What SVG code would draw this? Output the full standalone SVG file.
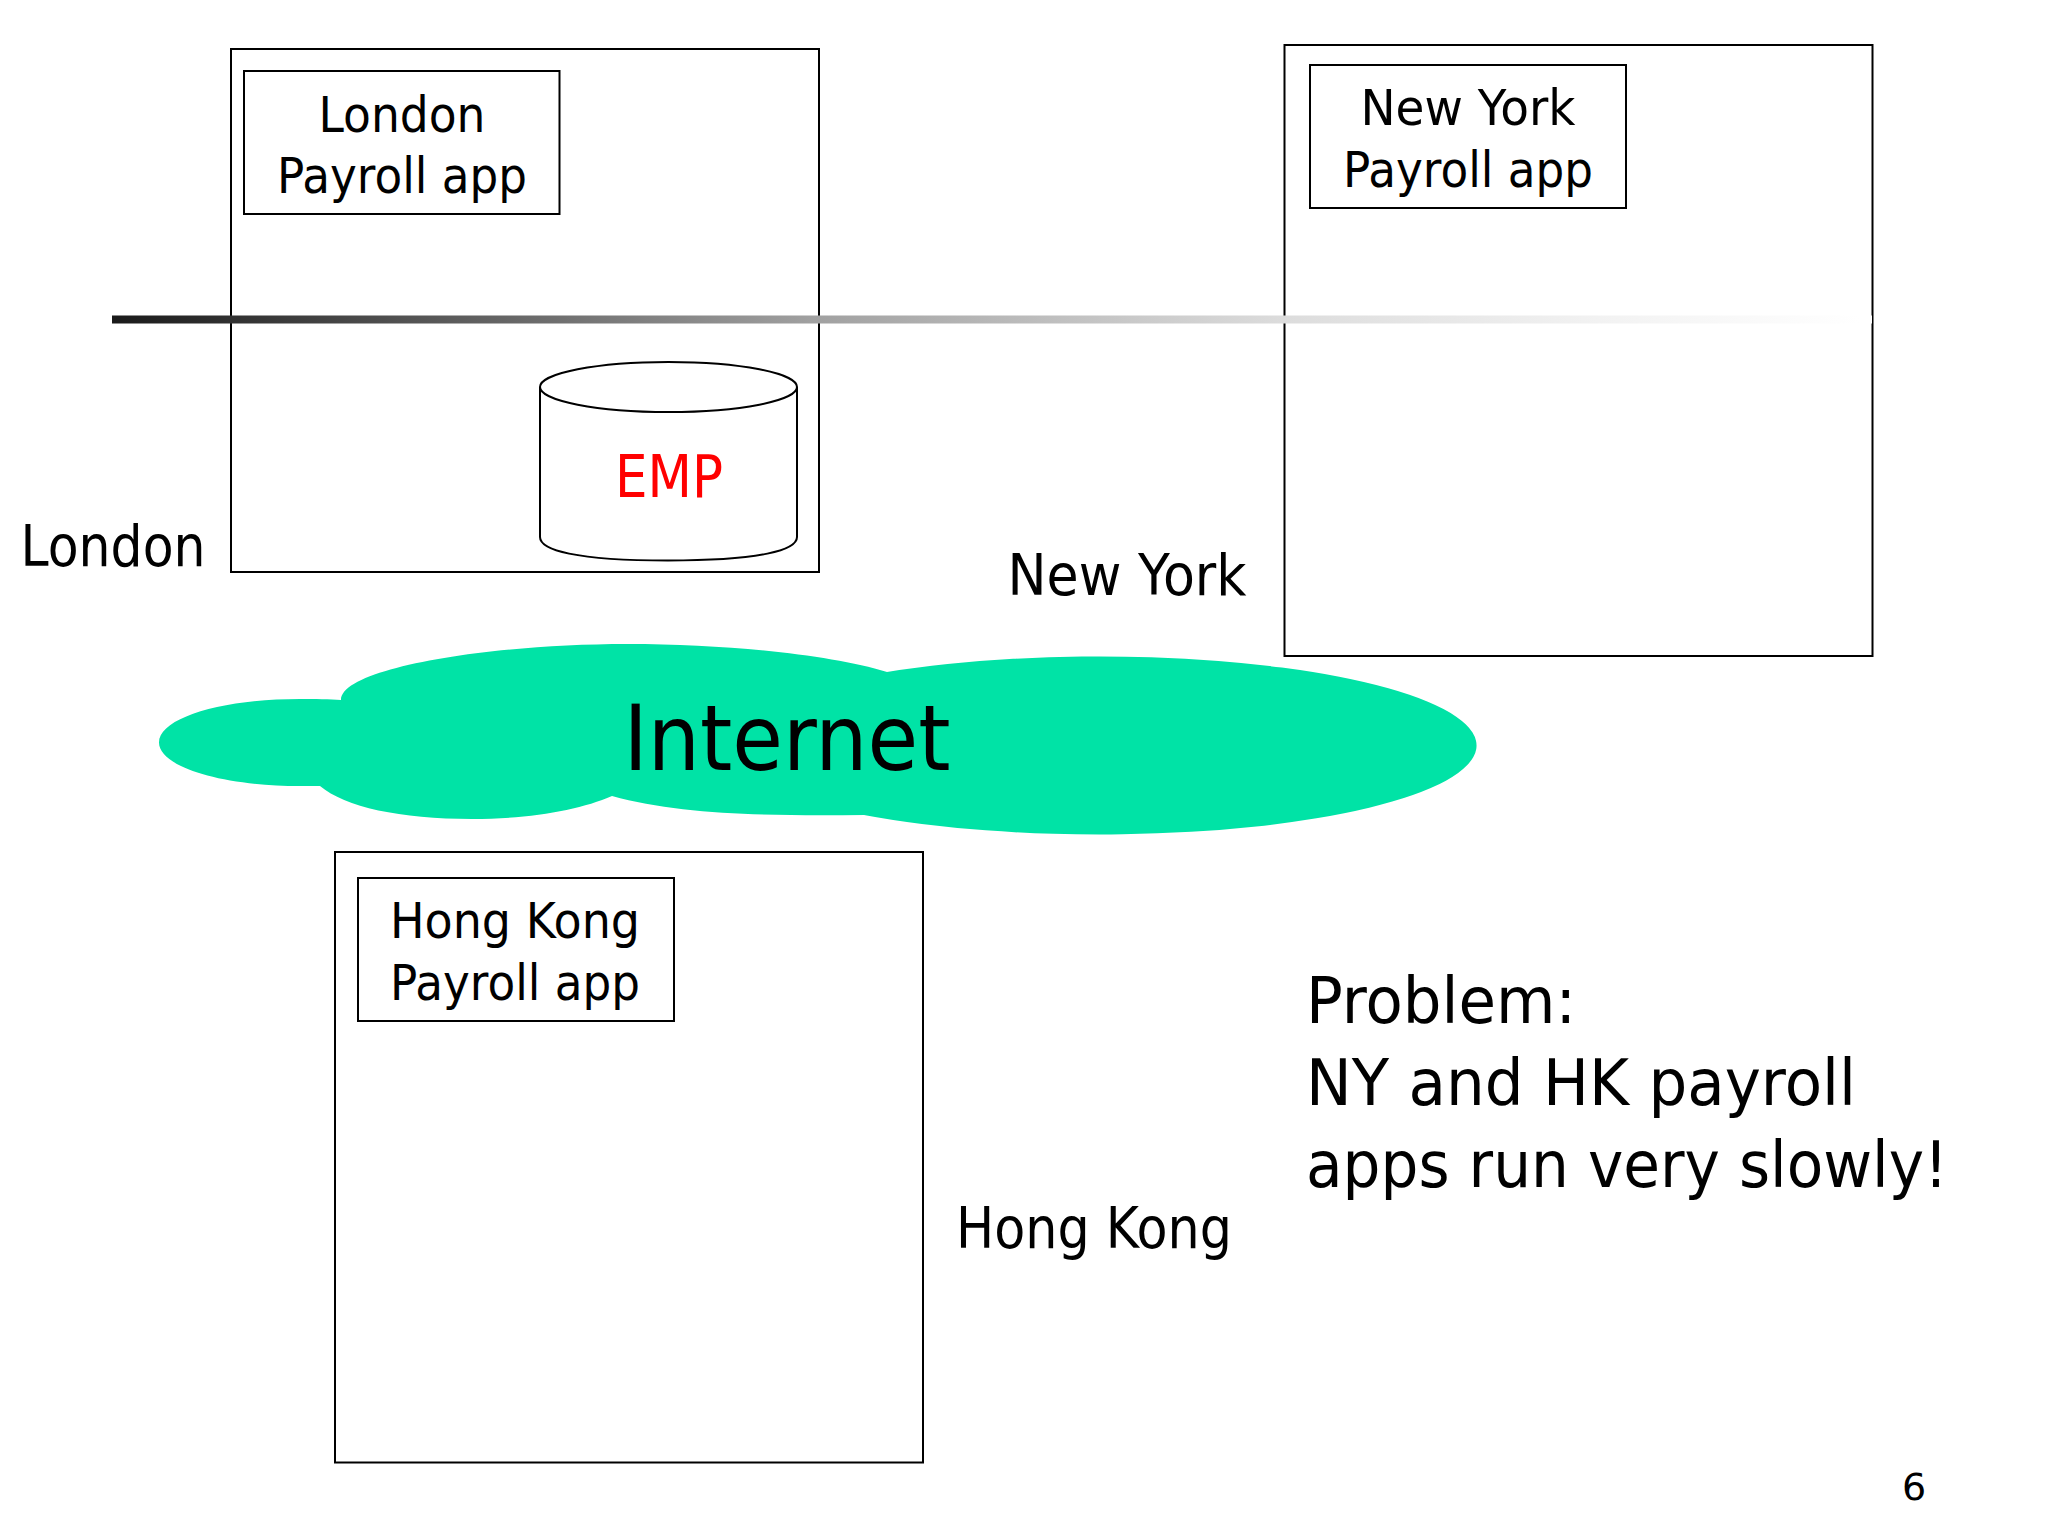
<svg xmlns="http://www.w3.org/2000/svg" width="2048" height="1536" viewBox="0 0 2048 1536">
<defs><linearGradient id="fade" x1="112" y1="0" x2="1860" y2="0" gradientUnits="userSpaceOnUse"><stop offset="0" stop-color="#1a1a1a"/><stop offset="0.4" stop-color="#a0a0a0"/><stop offset="0.67" stop-color="#dcdcdc"/><stop offset="0.85" stop-color="#f2f2f2"/><stop offset="1" stop-color="#ffffff"/></linearGradient></defs>
<style>
.b{fill:#fff;stroke:#000;stroke-width:2}
text{font-family:"DejaVu Sans",sans-serif;fill:#000;text-anchor:middle}
.s{font-size:50px}
.l{font-size:64px;text-anchor:start}
</style>
<rect width="2048" height="1536" fill="#fff"/>
<g id="london"><rect class="b" x="231" y="49" width="588" height="523"/></g>
<g id="newyork"><rect class="b" x="1284.500" y="45" width="588" height="611"/></g>
<g id="connectors"><rect x="112" y="315.500" width="1760" height="8" fill="url(#fade)"/></g>
<g id="london-app"><rect class="b" x="244" y="71" width="315.500" height="143"/><text class="s" x="402" y="132" textLength="167" lengthAdjust="spacingAndGlyphs">London</text><text class="s" x="402" y="193" textLength="250" lengthAdjust="spacingAndGlyphs">Payroll app</text></g>
<g id="ny-app"><rect class="b" x="1310" y="65" width="316" height="143"/><text class="s" x="1468" y="125" textLength="215" lengthAdjust="spacingAndGlyphs">New York</text><text class="s" x="1468" y="187" textLength="250" lengthAdjust="spacingAndGlyphs">Payroll app</text></g>
<g id="emp"><path class="b" d="M540 387V537C540 550 575 560.500 668 560.500S797 550 797 537V387"/><ellipse class="b" cx="668.500" cy="387" rx="128.500" ry="25"/><text x="669" y="497" font-size="58" textLength="108" lengthAdjust="spacingAndGlyphs" style="fill:#f00">EMP</text></g>
<text x="113" y="566" font-size="57" textLength="185" lengthAdjust="spacingAndGlyphs">London</text>
<text x="1127" y="595" font-size="57" textLength="239" lengthAdjust="spacingAndGlyphs">New York</text>
<g id="internet"><path fill="#00e3a6" d="M341 700C341 668 490 644 627 644C730 644 830 655 887 672A377 89 0 1 1 864 815C770 816 680 815 612 796C580 810 530 819 472 819C400 819 345 807 320 786L300 786C222 786 159 767 159 742.500C159 718 222 699 300 699C315 699 330 699 341 700Z"/><text x="787" y="770" font-size="90" textLength="327" lengthAdjust="spacingAndGlyphs">Internet</text></g>
<g id="hongkong"><rect class="b" x="335" y="852" width="588" height="610.500"/></g>
<g id="hk-app"><rect class="b" x="358" y="878" width="316" height="143"/><text class="s" x="515" y="938" textLength="250" lengthAdjust="spacingAndGlyphs">Hong Kong</text><text class="s" x="515" y="1000" textLength="250" lengthAdjust="spacingAndGlyphs">Payroll app</text></g>
<text x="1094" y="1248" font-size="57" textLength="276" lengthAdjust="spacingAndGlyphs">Hong Kong</text>
<text class="l" x="1306" y="1023" textLength="270" lengthAdjust="spacingAndGlyphs">Problem:</text>
<text class="l" x="1306" y="1105" textLength="550" lengthAdjust="spacingAndGlyphs">NY and HK payroll</text>
<text class="l" x="1306" y="1187" textLength="642" lengthAdjust="spacingAndGlyphs">apps run very slowly!</text>
<text x="1914" y="1500" font-size="38">6</text>
</svg>
